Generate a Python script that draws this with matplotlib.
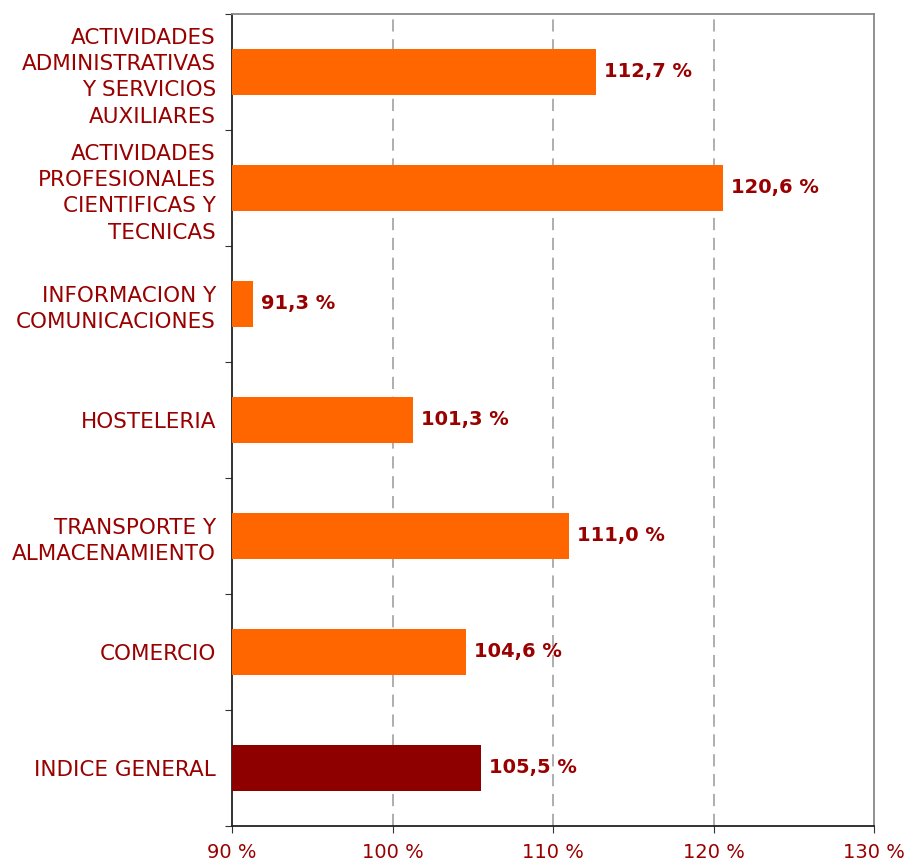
import matplotlib
matplotlib.use("Agg")
import matplotlib.pyplot as plt
import numpy as np

categories = [
    "INDICE GENERAL",
    "COMERCIO",
    "TRANSPORTE Y\nALMACENAMIENTO",
    "HOSTELERIA",
    "INFORMACION Y\nCOMUNICACIONES",
    "ACTIVIDADES\nPROFESIONALES\nCIENTIFICAS Y\nTECNICAS",
    "ACTIVIDADES\nADMINISTRATIVAS\nY SERVICIOS\nAUXILIARES",
]
values = [105.5, 104.6, 111.0, 101.3, 91.3, 120.6, 112.7]
value_labels = ["105,5 %", "104,6 %", "111,0 %", "101,3 %", "91,3 %", "120,6 %", "112,7 %"]
xticks = [90, 100, 110, 120, 130]
xtick_labels = ["90 %", "100 %", "110 %", "120 %", "130 %"]

text_color = "#990000"
colors = ["#8E0000"] + ["#FF6600"] * (len(values) - 1)

fig = plt.figure(figsize=(9.09, 8.64), dpi=100)
ax = fig.add_axes([232 / 909, 1 - 826 / 864, (874 - 232) / 909, (826 - 14) / 864])

y = np.arange(len(categories))
base = 90
ax.barh(y, [v - base for v in values], left=base, height=0.4, color=colors, zorder=3)

for yi, v, lab in zip(y, values, value_labels):
    ax.text(v + 0.5, yi, lab, va="center", ha="left", fontsize=14, fontweight="bold",
            color=text_color, zorder=4)

ax.set_xlim(90, 130)
ax.set_ylim(-0.5, len(categories) - 0.5)
ax.set_xticks(xticks)
ax.set_xticklabels(xtick_labels, fontsize=14, color=text_color)

ax.set_yticks(np.arange(-0.5, len(categories), 1.0))
ax.set_yticklabels([])
ax.set_yticks(y, minor=True)
ax.set_yticklabels(categories, minor=True, fontsize=15.5, color=text_color, linespacing=1.4)
ax.tick_params(axis="y", which="minor", length=0, pad=11.5)
ax.tick_params(axis="y", which="major", length=5, direction="out", color="#333333")
ax.tick_params(axis="x", length=5, direction="out", color="#333333", pad=7)

for xv in [100, 110, 120]:
    ax.axvline(xv, color="#999999", linestyle=(0, (8, 5)), linewidth=1.1, zorder=1)

ax.spines["left"].set_color("#222222")
ax.spines["bottom"].set_color("#222222")
ax.spines["top"].set_color("#888888")
ax.spines["right"].set_color("#888888")
for s in ax.spines.values():
    s.set_linewidth(1.3)

fig.savefig("out.png", dpi=100)
